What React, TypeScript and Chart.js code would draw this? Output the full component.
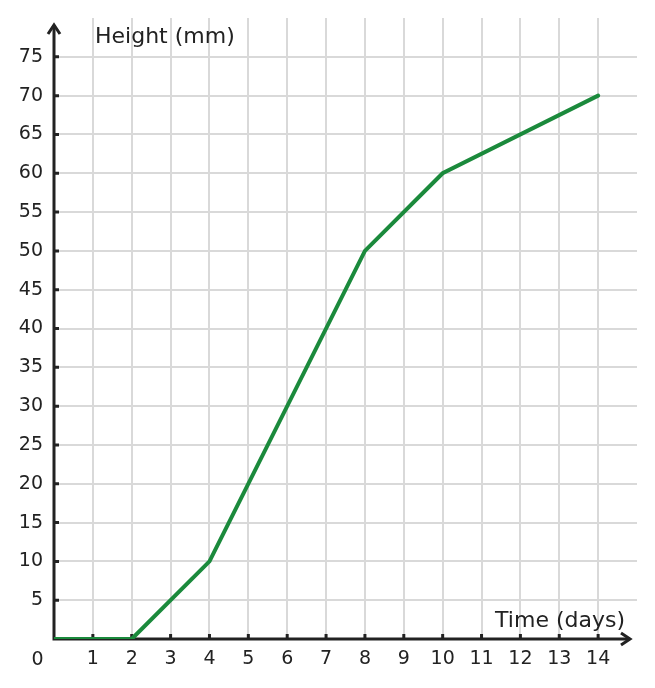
// @ts-nocheck
import {useEffect, useRef} from "react";
import {Chart, registerables} from "chart.js";

Chart.register(...registerables);

const days = [0, 2, 4, 8, 10, 14];
const heights = [0, 0, 10, 50, 60, 70];
const xTickLabels = [1, 2, 3, 4, 5, 6, 7, 8, 9, 10, 11, 12, 13, 14];
const yTickLabels = [5, 10, 15, 20, 25, 30, 35, 40, 45, 50, 55, 60, 65, 70, 75];
const xTitle = "Time (days)";
const yTitle = "Height (mm)";

const FONT = "DejaVu Sans";
const INK = "#222222";
const GRID = "#d9d9d9";
const GREEN = "#1b8a3c";

// axes with arrows, inner tick marks, axis titles and the corner "0"
const axesPlugin = {
    id: "arrowAxes",
    beforeDatasetsDraw(chart) {
        const {ctx, scales: {x, y}} = chart;
        const x0 = x.getPixelForValue(0);
        const y0 = y.getPixelForValue(0);
        ctx.save();
        ctx.strokeStyle = INK;
        ctx.lineWidth = 3;
        ctx.lineCap = "butt";
        ctx.beginPath();
        ctx.moveTo(x0, y0 + 1);
        ctx.lineTo(x0, 26);
        ctx.moveTo(x0 - 1.5, y0);
        ctx.lineTo(629, y0);
        ctx.stroke();
        // tick marks
        ctx.beginPath();
        xTickLabels.forEach(v => {
            const px = x.getPixelForValue(v);
            ctx.moveTo(px, y0);
            ctx.lineTo(px, y0 - 5);
        });
        yTickLabels.forEach(v => {
            const py = y.getPixelForValue(v);
            ctx.moveTo(x0, py);
            ctx.lineTo(x0 + 5, py);
        });
        ctx.stroke();
        // arrow heads
        ctx.lineJoin = "miter";
        ctx.beginPath();
        ctx.moveTo(x0 - 6, 34);
        ctx.lineTo(x0, 25);
        ctx.lineTo(x0 + 6, 34);
        ctx.moveTo(621, y0 - 6);
        ctx.lineTo(630, y0);
        ctx.lineTo(621, y0 + 6);
        ctx.stroke();
        ctx.restore();
    },
    afterDraw(chart) {
        const {ctx} = chart;
        ctx.save();
        ctx.fillStyle = INK;
        ctx.font = `22px "${FONT}"`;
        ctx.textBaseline = "alphabetic";
        ctx.textAlign = "left";
        ctx.fillText(yTitle, 95, 43);
        ctx.textAlign = "right";
        ctx.fillText(xTitle, 625, 627);
        ctx.font = `19px "${FONT}"`;
        ctx.textAlign = "center";
        ctx.fillText("0", 37.5, 665);
        ctx.restore();
    },
};

export default function App() {
    const chartRef = useRef(null);
    const chartInstance = useRef(null);

    useEffect(() => {
        const ctx = chartRef.current?.getContext("2d");
        chartInstance.current = new Chart(ctx, {
            type: "line",
            data: {
                datasets: [
                    {
                        label: yTitle,
                        data: days.map((d, i) => ({x: d, y: heights[i]})),
                        borderColor: GREEN,
                        backgroundColor: GREEN,
                        borderWidth: 4,
                        borderCapStyle: "round",
                        pointRadius: 0,
                        fill: false,
                        tension: 0,
                    },
                ],
            },
            options: {
                responsive: false,
                animation: false,
                layout: {padding: {top: 18, right: 18, left: 0, bottom: 0}},
                plugins: {
                    legend: {display: false},
                    tooltip: {enabled: false},
                },
                scales: {
                    x: {
                        type: "linear",
                        min: 0,
                        max: 15,
                        afterFit: (s) => {
                            s.height = 49;
                            s.paddingLeft = 0;
                            s.paddingRight = 0;
                        },
                        border: {display: false},
                        grid: {
                            drawTicks: false,
                            lineWidth: 2,
                            color: (c) => (c.tick && xTickLabels.includes(c.tick.value) ? GRID : "rgba(0,0,0,0)"),
                        },
                        ticks: {
                            stepSize: 1,
                            padding: 9,
                            color: INK,
                            font: {family: FONT, size: 19},
                            maxRotation: 0,
                            autoSkip: false,
                            callback: (v) => (xTickLabels.includes(v) ? String(v) : ""),
                        },
                    },
                    y: {
                        type: "linear",
                        min: 0,
                        max: 80,
                        afterFit: (s) => {
                            s.width = 54;
                            s.paddingTop = 0;
                            s.paddingBottom = 0;
                        },
                        border: {display: false},
                        grid: {
                            drawTicks: false,
                            lineWidth: 2,
                            color: (c) => (c.tick && yTickLabels.includes(c.tick.value) ? GRID : "rgba(0,0,0,0)"),
                        },
                        ticks: {
                            stepSize: 5,
                            padding: 11,
                            color: INK,
                            font: {family: FONT, size: 19},
                            autoSkip: false,
                            callback: (v) => (yTickLabels.includes(v) ? String(v) : ""),
                        },
                    },
                },
            },
            plugins: [axesPlugin],
        });

        return () => {
            chartInstance.current.destroy();
        };
    }, []);

    return (
        <div style={{position: "absolute", left: 0, top: 0, width: 655, height: 688, background: "#fff"}}>
            <canvas ref={chartRef} width={655} height={688}/>
        </div>
    );
}
